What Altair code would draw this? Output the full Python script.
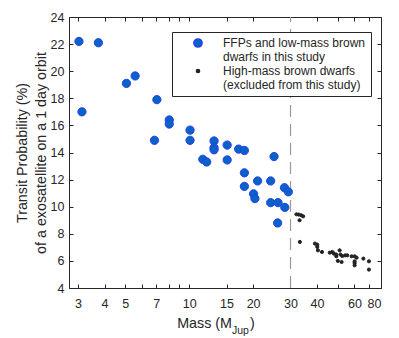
import altair as alt
import pandas as pd

# ---- data ----
ffp_mass = [3.03, 3.74, 5.07, 5.57, 7.05, 3.13, 8.06, 8.06, 6.87, 10.1, 10.1, 13.1, 13.1, 13.1,
            15.1, 15.1, 11.6, 12.1, 17.1, 18.2, 18.2, 18.2, 25.1, 21.0, 24.2, 28.1, 29.3, 20.1,
            20.4, 24.2, 26.2, 28.2, 26.1]
ffp_prob = [22.2, 22.1, 19.1, 19.65, 17.9, 17.0, 16.4, 16.1, 14.9, 15.65, 14.9, 14.85, 14.35, 14.2,
            14.55, 13.45, 13.5, 13.3, 14.25, 14.15, 12.5, 11.5, 13.7, 11.9, 11.9, 11.4, 11.1, 10.95,
            10.6, 10.3, 10.3, 9.95, 8.8]
hm_mass = [32.0, 32.8, 33.7, 34.4, 33.1, 33.2, 39.1, 40.1, 40.1, 40.4, 42.2, 45.9, 47.2, 48.0,
           49.3, 49.3, 51.1, 51.6, 52.6, 54.3, 55.5, 50.1, 52.2, 58.2, 60.1, 61.4, 60.1, 60.1,
           60.1, 66.1, 70.2, 70.2]
hm_prob = [9.44, 9.42, 9.37, 9.29, 9.0, 7.4, 7.28, 7.2, 7.03, 6.78, 6.66, 6.61, 6.66, 6.54,
           6.47, 6.34, 6.78, 6.47, 6.36, 6.41, 6.41, 6.0, 5.92, 6.34, 6.34, 6.24, 5.97, 5.84,
           5.67, 6.17, 5.97, 5.36]
groups = ["FFPs and low-mass brown dwarfs in this study",
          "High-mass brown dwarfs (excluded from this study)"]
cutoff_mass = [30]
x_label_values = [3, 4, 5, 7, 10, 15, 20, 30, 40, 60, 80]
x_tick_values = [3, 4, 5, 6, 7, 8, 9, 10, 15, 20, 30, 40, 50, 60, 70, 80]
y_values = [4, 6, 8, 10, 12, 14, 16, 18, 20, 22, 24]
y_title = ["Transit Probability (%)", "of a exosatellite on a 1 day orbit"]

df = pd.DataFrame({
    "mass": ffp_mass + hm_mass,
    "prob": ffp_prob + hm_prob,
    "group": [groups[0]] * len(ffp_mass) + [groups[1]] * len(hm_mass),
})

W, H = 312, 271
FONT = "Liberation Sans"
INK = "#262626"
TFS = 14.3

xs = alt.Scale(type="log", domain=[2.72, 80], nice=False)
ys = alt.Scale(domain=[4, 24], nice=False)

label_expr = ("datum.value == '" + groups[0] + "' ? ['FFPs and low-mass brown', 'dwarfs in this study']"
              " : ['High-mass brown dwarfs', '(excluded from this study)']")
leg = alt.Legend(title=None, orient="none", legendX=103, legendY=15, strokeColor=INK,
                 fillColor="white", padding=5, symbolOffset=15, labelOffset=19,
                 labelFont=FONT, labelFontSize=12, labelColor=INK, labelLimit=400,
                 labelExpr=label_expr, symbolType="circle", rowPadding=2)

color = alt.Color("group:N", scale=alt.Scale(domain=groups, range=["#0a62c6", "#222222"]), legend=leg)
stroke = alt.Stroke("group:N", scale=alt.Scale(domain=groups, range=["#2440f0", "#222222"]), legend=leg)
size = alt.Size("group:N", scale=alt.Scale(domain=groups, range=[68, 10]), legend=leg)

def tick_axis(orient, offset, values):
    return alt.Axis(orient=orient, offset=offset, values=values, labels=False, ticks=True,
                    tickSize=4, tickColor=INK, domain=False, grid=False, title=None)

base = alt.Chart(df)

blue = base.transform_filter(alt.datum.group == groups[0]).mark_circle(opacity=1, strokeWidth=1).encode(
    x=alt.X("mass:Q", scale=xs, axis=alt.Axis(orient="bottom", values=x_label_values, format="d",
                                              ticks=False, domain=False, grid=False, title=None,
                                              labelPadding=9, labelFont=FONT, labelFontSize=12.5,
                                              labelColor=INK)),
    y=alt.Y("prob:Q", scale=ys, axis=alt.Axis(orient="left", values=y_values, ticks=False,
                                              domain=False, grid=False, title=y_title,
                                              labelPadding=5, labelFont=FONT, labelFontSize=12.5,
                                              labelColor=INK, titleFont=FONT, titleFontSize=TFS,
                                              titleFontWeight="normal", titleColor=INK,
                                              titlePadding=2, titleLineHeight=19)),
    color=color, stroke=stroke, size=size,
)

black = base.transform_filter(alt.datum.group == groups[1]).mark_circle(opacity=1, strokeWidth=1).encode(
    x=alt.X("mass:Q", scale=xs, axis=tick_axis("top", -H, x_tick_values)),
    y=alt.Y("prob:Q", scale=ys, axis=tick_axis("right", -W, y_values)),
    color=color, stroke=stroke, size=size,
)

rule_df = pd.DataFrame({"m": cutoff_mass, "lo": [4], "hi": [24]})
rule = alt.Chart(rule_df).mark_rule(strokeDash=[12, 7], color="#9a9a9a", strokeWidth=1.2).encode(
    x=alt.X("m:Q", scale=xs, axis=tick_axis("bottom", -H, x_tick_values)),
    y=alt.Y("lo:Q", scale=ys, axis=tick_axis("left", -W, y_values)),
    y2="hi:Q",
)

t_main = alt.Chart(pd.DataFrame({"t": ["Mass (M"]})).mark_text(
    align="right", baseline="alphabetic", font=FONT, fontSize=TFS, color=INK).encode(
    x=alt.value(163), y=alt.value(311), text="t:N")
t_sub = alt.Chart(pd.DataFrame({"t": ["Jup"]})).mark_text(
    align="left", baseline="alphabetic", font=FONT, fontSize=10.5, color=INK).encode(
    x=alt.value(163), y=alt.value(317), text="t:N")
t_end = alt.Chart(pd.DataFrame({"t": [")"]})).mark_text(
    align="left", baseline="alphabetic", font=FONT, fontSize=TFS, color=INK).encode(
    x=alt.value(181), y=alt.value(311), text="t:N")

chart = alt.layer(rule, blue, black, t_main, t_sub, t_end).resolve_axis(
    x="independent", y="independent"
).properties(
    width=W, height=H, autosize="none",
    padding={"left": 61, "top": 9, "right": 10, "bottom": 50},
).configure_view(stroke=INK, strokeWidth=1)

chart.save("out.html", embed_options={"renderer": "svg", "actions": False})
